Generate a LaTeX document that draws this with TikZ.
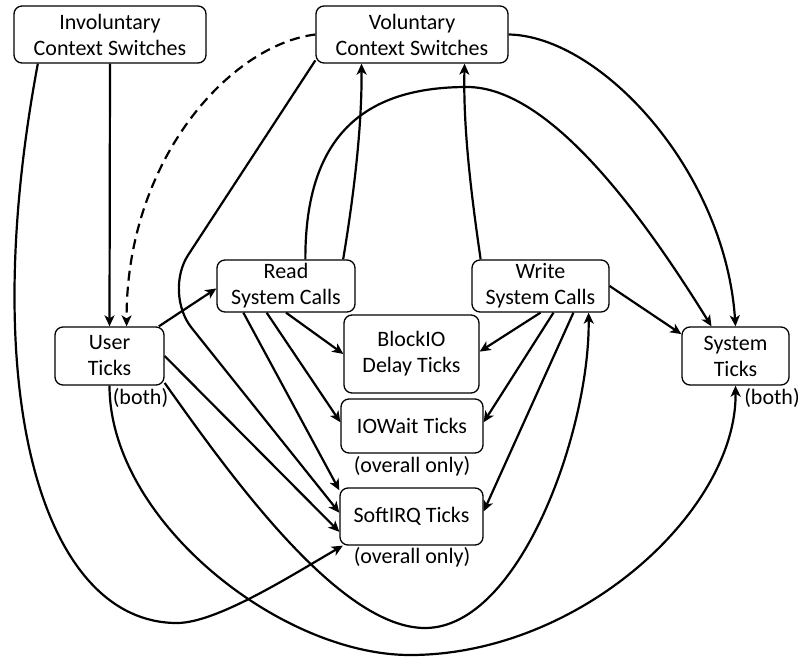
\documentclass[tikz,border=0pt]{standalone}
\usepackage{fontspec}
\setmainfont{Carlito}
\usetikzlibrary{arrows.meta}
\begin{document}
\begin{tikzpicture}[x=1pt,y=-1pt,
  box/.style={draw=black, line width=1.3pt, rounded corners=8pt, fill=white,
    inner sep=0pt, align=center, font=\fontsize{22}{26}\selectfont},
  lbl/.style={inner sep=0pt, font=\fontsize{22}{26}\selectfont},
  arr/.style={draw=black, line width=2.2pt, -{Stealth[length=11pt,width=10pt,inset=3pt]}},
  dsh/.style={arr, dash pattern=on 10pt off 6pt}]
\useasboundingbox (0,0) rectangle (802,658);
% nodes
\node[box, minimum width=192pt, minimum height=57pt] (inv) at (110,34.5) {Involuntary\\Context Switches};
\node[box, minimum width=192pt, minimum height=57pt] (vol) at (412,34.5) {Voluntary\\Context Switches};
\node[box, minimum width=138pt, minimum height=52pt] (read) at (286,286) {Read\\System Calls};
\node[box, minimum width=137pt, minimum height=52pt] (write) at (540.5,286) {Write\\System Calls};
\node[box, minimum width=109pt, minimum height=58pt] (user) at (109.5,356) {User\\Ticks};
\node[box, minimum width=135pt, minimum height=78pt] (blockio) at (411.5,354) {BlockIO\\Delay Ticks};
\node[box, minimum width=142pt, minimum height=54pt] (iowait) at (412,426) {IOWait Ticks};
\node[box, minimum width=143pt, minimum height=57pt] (softirq) at (411.5,516.5) {SoftIRQ Ticks};
\node[box, minimum width=107pt, minimum height=58pt] (sys) at (735.5,356) {System\\Ticks};
% labels
\node[lbl] (ub) at (140.5,398) {(both)};
\node[lbl] (sb) at (772,398) {(both)};
\node[lbl] (io) at (412,466) {(overall only)};
\node[lbl] (so) at (412,557) {(overall only)};
% helper coordinates
\coordinate (b1) at (177,623);
\coordinate (c1) at (163.5,292.7);
\coordinate (tp) at (467,87);
\coordinate (b2) at (425,628);
\coordinate (b3) at (410,655);
% edges
\draw[arr] (inv.south) -- (user.north);
\draw[dsh] (vol.west) .. controls (230,45) and (126,160) .. (user.60);
\draw[arr] (inv.202) .. controls (-25,400) and (45,623) .. (b1)
  .. controls (217,623) and (292,575) .. (softirq.203);
\draw[arr, rounded corners=45pt] (vol.195) -- (c1) -- (softirq.177);
\draw[arr] (vol.east) .. controls (600,36) and (725,170) .. (sys.north);
\draw[arr] (read.25) .. controls (353,200) and (362,130) .. (vol.210);
\draw[arr] (write.156) .. controls (472,200) and (463,130) .. (vol.331);
\draw[arr] (read.54) .. controls (305,130) and (370,87) .. (tp)
  .. controls (550,87) and (643,216) .. (sys.129);
\draw[arr] (write.east) -- (sys.158);
\draw[arr] (user.31) -- (read.182);
\draw[arr] (user.east) -- (softirq.192);
\draw[arr] (user.334) .. controls (232,478) and (340,628) .. (b2)
  .. controls (520,628) and (590,430) .. (write.331);
\draw[arr] (user.south) .. controls (109.5,520) and (280,655) .. (b3)
  .. controls (580,655) and (737,510) .. (sys.south);
\draw[arr] (read.south) -- (blockio.west);
\draw[arr] (read.234) -- (iowait.177);
\draw[arr] (read.212) -- (softirq.160);
\draw[arr] (write.south) -- (blockio.2);
\draw[arr] (write.296) -- (iowait.3);
\draw[arr] (write.321) -- (softirq.4);
\end{tikzpicture}
\end{document}
